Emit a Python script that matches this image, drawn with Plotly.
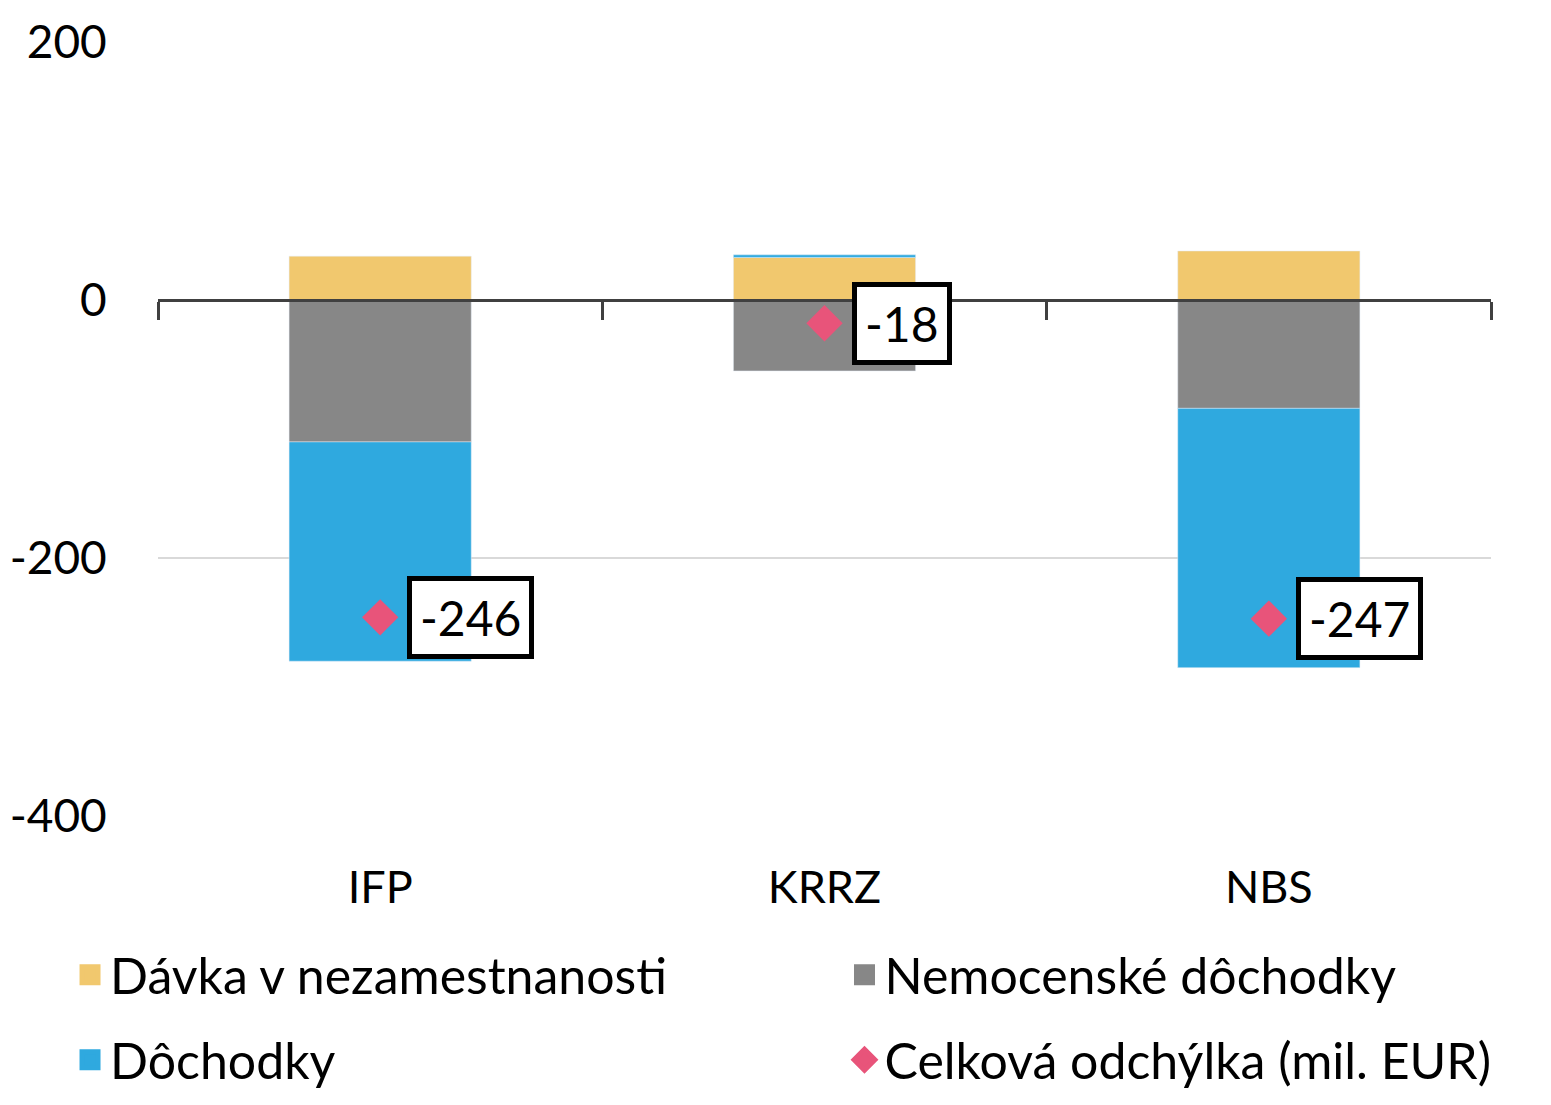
import plotly.graph_objects as go

# Data (mil. EUR)
categories = ["IFP", "KRRZ", "NBS"]
davka = [34, 33, 38]
nemocenske = [-110, -55, -84]
dochodky = [-170, 2, -201]
celkova = [-246, -18, -247]
total_labels = ["-246", "-18", "-247"]

FONT = "Lato"
YELLOW = "#F1C86E"
GRAY = "#878787"
BLUE = "#2FA9DF"
PINK = "#E8547A"

fig = go.Figure()

# Stacked bars (order matters: yellow, gray, blue)
for name, vals, col in [("Dávka v nezamestnanosti", davka, YELLOW),
                        ("Nemocenské dôchodky", nemocenske, GRAY),
                        ("Dôchodky", dochodky, BLUE)]:
    fig.add_trace(go.Bar(x=categories, y=vals, name=name, marker_color=col,
                         width=0.41, showlegend=False))

# Total deviation marker, drawn on the overlaid axis that carries the zero line
fig.add_trace(go.Scatter(x=categories, y=celkova, mode="markers", xaxis="x2",
                         marker=dict(symbol="diamond", size=28, color=PINK),
                         showlegend=False))

# Legend-only entries, one legend per slot (2 x 2 grid)
legend_items = [("Dávka v nezamestnanosti", "square", YELLOW, "legend"),
                ("Nemocenské dôchodky", "square", GRAY, "legend2"),
                ("Dôchodky", "square", BLUE, "legend3"),
                ("Celková odchýlka (mil. EUR)", "diamond", PINK, "legend4")]
for name, sym, col, lg in legend_items:
    fig.add_trace(go.Scatter(x=[None], y=[None], mode="markers", name=name,
                             marker=dict(symbol=sym, size=16, color=col,
                                         line=dict(color=col, width=8)),
                             legend=lg))

# Boxed value labels
for cat, val, txt in zip(categories, celkova, total_labels):
    fig.add_annotation(x=cat, y=val, xref="x", yref="y", text=txt,
                       showarrow=False, xanchor="left", xshift=27,
                       font=dict(family=FONT, size=48, color="black"),
                       bgcolor="white", bordercolor="black", borderwidth=5,
                       borderpad=8)

leg = dict(orientation="h", xanchor="left", yanchor="middle",
           font=dict(family=FONT, size=50), bgcolor="rgba(0,0,0,0)")
row1, row2 = -0.205, -0.315
col1, col2 = -0.066, 0.515

fig.update_layout(
    width=1551, height=1105,
    margin=dict(l=150, r=68, t=34, b=297, autoexpand=False),
    barmode="relative",
    plot_bgcolor="white", paper_bgcolor="white",
    font=dict(family=FONT, size=45, color="black"),
    xaxis=dict(range=[-0.5, 2.5], showline=False, showgrid=False,
               automargin=False,
               ticks="outside", ticklen=32, tickcolor="rgba(0,0,0,0)",
               tickfont=dict(size=45)),
    xaxis2=dict(overlaying="x", anchor="free", position=2/3,
                range=[-0.5, 2.5], showline=True, linecolor="#404040",
                linewidth=3, ticks="outside", tickson="boundaries",
                ticklen=18, tickwidth=3, tickcolor="#404040",
                showticklabels=False, showgrid=False),
    yaxis=dict(range=[-400, 200], tickvals=[-400, -200, 0, 200],
               ticktext=["-400", "-200", "0", "200"],
               showgrid=True, gridcolor="#D9D9D9", gridwidth=2,
               zeroline=False, showline=False, automargin=False,
               ticks="outside", ticklen=41, tickcolor="rgba(0,0,0,0)",
               tickfont=dict(size=46)),
    legend=dict(leg, x=col1, y=row1),
    legend2=dict(leg, x=col2, y=row1),
    legend3=dict(leg, x=col1, y=row2),
    legend4=dict(leg, x=col2, y=row2),
)

fig.write_html("out.html")
